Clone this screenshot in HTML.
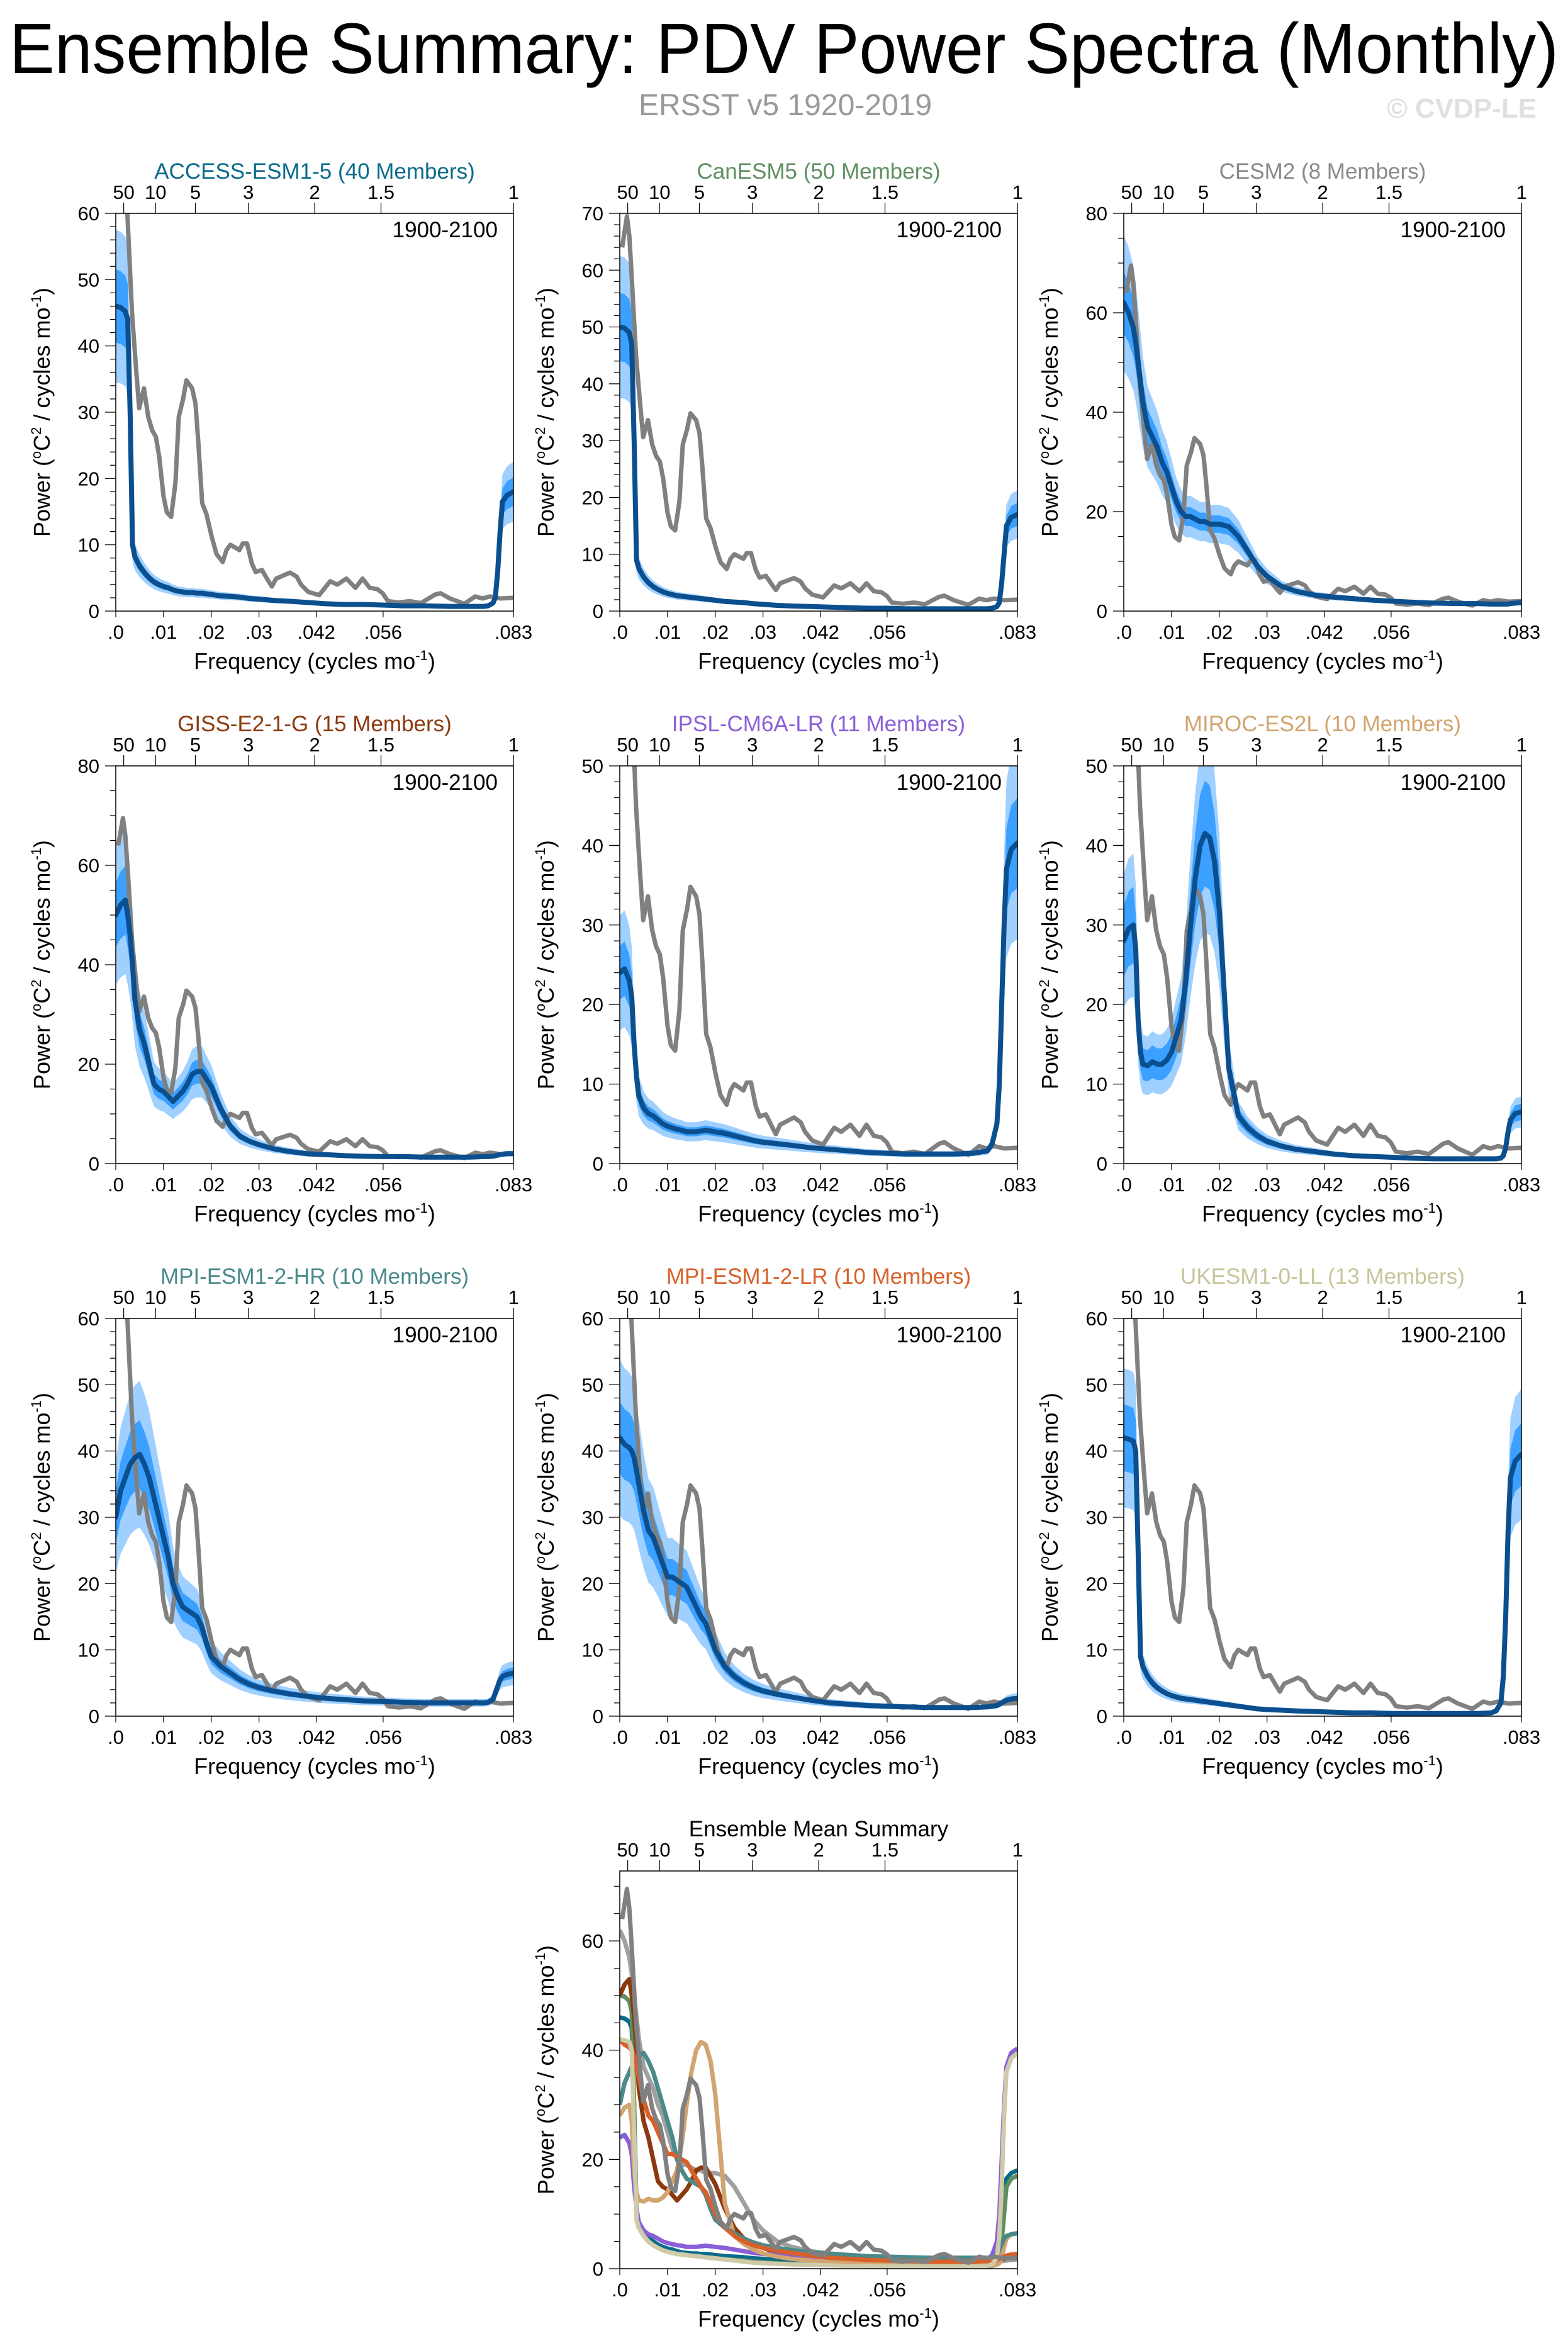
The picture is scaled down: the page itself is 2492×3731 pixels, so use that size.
<!DOCTYPE html>
<html><head><meta charset="utf-8"><style>
html,body{margin:0;padding:0;background:#fff}
svg{display:block;font-family:"Liberation Sans",sans-serif}
</style></head><body>
<svg id="chart" width="2492" height="3731" viewBox="0 0 2492 3731">
<text x="1246" y="116" font-size="113" text-anchor="middle" textLength="2462" lengthAdjust="spacingAndGlyphs">Ensemble Summary: PDV Power Spectra (Monthly)</text>
<text x="1248" y="183" font-size="48" fill="#999" text-anchor="middle">ERSST v5 1920-2019</text>
<text x="2442" y="187" font-size="44" font-weight="bold" fill="#e0e0e0" text-anchor="end">© CVDP-LE</text>
<g id="panels"></g>
</svg>
<script>
const G = [0,.001,.002,.0025,.003,.0035,.004,.005,.006,.007,.008,.009,.010,.011,.012,.013,.014,.015,.016,.017,.018,.019,.020,.022,.024,.026,.028,.030,.033,.036,.040,.044,.048,.052,.056,.060,.065,.070,.074,.077,.078,.079,.0795,.080,.0805,.081,.082,.0833];
const obsFreq = [.0005,.0015,.002,.00243,.0034,.0042,.0049,.0059,.0068,.0076,.0084,.0091,.0100,.0107,.0116,.0125,.0132,.0141,.0148,.0160,.0167,.0173,.0181,.0190,.0201,.0211,.0224,.0232,.0240,.0259,.0266,.0275,.0285,.0293,.0306,.0320,.0327,.0336,.0365,.0379,.0388,.0403,.0426,.0449,.0464,.0483,.0502,.0517,.0532,.0548,.0559,.0570,.0593,.0616,.0639,.0669,.0680,.0700,.0730,.0753,.0768,.0784,.0806,.0833];
const obsPower = [64,69.5,66,60,45,37,30.6,33.6,29.3,27.3,26.3,23.3,17.3,14.9,14.2,19.3,29.3,32,34.8,33.6,31.3,25.3,16.3,14.6,11.2,8.6,7.4,9.2,10,9.2,10.2,10.2,7.2,5.9,6.2,4.5,3.7,4.9,5.8,5.2,4,2.9,2.4,4.5,4,4.9,3.5,4.9,3.5,3.3,2.7,1.5,1.3,1.5,1.2,2.5,2.7,1.9,1.1,2.2,1.9,2.2,1.9,2];
const modelNames = ["ACCESS-ESM1-5 (40 Members)","CanESM5 (50 Members)","CESM2 (8 Members)","GISS-E2-1-G (15 Members)","IPSL-CM6A-LR (11 Members)","MIROC-ES2L (10 Members)","MPI-ESM1-2-HR (10 Members)","MPI-ESM1-2-LR (10 Members)","UKESM1-0-LL (13 Members)"];
const accessMean = [46,45.8,45.2,44,30,10,8.2,6.8,5.8,5,4.4,4,3.7,3.5,3.2,3,2.9,2.8,2.8,2.7,2.7,2.6,2.5,2.3,2.2,2.1,1.9,1.8,1.6,1.5,1.3,1.1,1.0,1.0,0.9,0.8,0.8,0.7,0.7,0.7,0.8,1.2,2,6,12,16.5,17.5,18];
const canesmMean = [50,49.8,49,47,30,9,7.5,6,5,4.3,3.8,3.4,3.1,2.9,2.7,2.6,2.5,2.4,2.3,2.2,2.1,2.0,1.9,1.7,1.6,1.5,1.3,1.2,1.0,.9,.8,.7,.6,.5,.5,.4,.4,.4,.4,.4,.5,.8,1.5,5,10,15,16.5,17];
const cesmMean = [62,60,57,54,50,46,42,37,35,33,30,28,25,22,20,19,19,18.5,18,18,17.5,17.5,17.5,17,15,12,9,7,5,4,3.2,2.8,2.5,2.2,2,1.8,1.6,1.5,1.5,1.4,1.4,1.4,1.4,1.4,1.4,1.5,1.6,1.7];
const gissMean = [50,52,53,50,46,40,33,27,24,20,16,15,14.5,13.5,12.5,13.5,14.5,16,18,18.5,18.5,17,15.5,11,7.5,5.5,4.5,3.8,3,2.5,2,1.8,1.6,1.5,1.4,1.4,1.3,1.3,1.3,1.4,1.4,1.5,1.6,1.7,1.8,1.9,2,2];
const ipslMean = [24,24.5,23,21,15,11,8.5,7,6.3,6,5.5,5,4.7,4.5,4.3,4.2,4,4,4,4.1,4.2,4.1,4,3.8,3.5,3.2,2.9,2.7,2.5,2.3,2,1.8,1.6,1.4,1.3,1.2,1.2,1.2,1.3,1.6,2.5,5,10,20,30,37,39.5,40.3];
const mirocMean = [28,29.5,30,27,18,14,12.5,12.3,12.8,12.5,12.5,13,14,16,18,23,30,36,40,41.5,41,38,32,12,6,4.5,3.5,2.8,2.2,1.8,1.5,1.2,1,.9,.8,.7,.6,.6,.6,.6,.6,.7,1,2,4,5.5,6.3,6.5];
const mpihrMean = [30,34,36,37,38,38.5,39,39.5,38,36,33,30,27,24,20,18,16.5,16,15.5,15,13.5,11,9,7.5,6.5,5.5,4.8,4.3,3.8,3.4,3,2.7,2.5,2.3,2.2,2.1,2,2,2,2,2.1,2.5,3.5,4.5,5.5,6,6.3,6.5];
const mpilrMean = [42,41,40.5,40,39,37,35,31,28,27,25,23,21,21,20.5,20,19.5,18,16.5,15,14,12,10,7.5,6,5,4.3,3.8,3.3,2.9,2.4,2,1.8,1.6,1.5,1.4,1.3,1.3,1.3,1.4,1.5,1.6,1.8,2,2.2,2.4,2.6,2.7];
const ukesmMean = [42,41.8,41.5,40,25,9,7.5,6,5,4.3,3.8,3.4,3.1,2.9,2.7,2.6,2.5,2.4,2.3,2.2,2.1,2.0,1.9,1.7,1.5,1.3,1.1,1,.9,.8,.7,.6,.5,.5,.4,.4,.4,.4,.4,.5,.8,2,6,15,28,36,38.5,39.5];
const outerSpread = [0.25,0.25,0.22,0.28,0.3,0.3,0.28,0.28,0.25];
const innerSpread = [0.12,0.12,0.1,0.13,0.14,0.16,0.13,0.13,0.12];
const yMaxes = [60,70,80,80,50,50,60,60,60];
const yMajors = [10,10,20,20,10,10,10,10,10];
const yMinors = [2,2,5,5,2,2,2,2,2];
const meanYMax = 72.8;
const xTickVals = [0,.01,.02,.03,.042,.056,.0833];
const xTickLabels = [".0",".01",".02",".03",".042",".056",".083"];
const periodVals = [50,10,5,3,2,1.5,1];
const periodLabels = ["50","10","5","3","2","1.5","1"];

const allMeans=[accessMean,canesmMean,cesmMean,gissMean,ipslMean,mirocMean,mpihrMean,mpilrMean,ukesmMean];
const titleColors=["#0b6b8c","#5f8f60","#8a8a8a","#8b3a0f","#8a5fd8","#d2a46f","#4a8a8a","#d8602a","#c8c49a"];
const lineColors=["#0b6b8c","#5f8f60","#a0a0a0","#8b3a0f","#8a5fd8","#d2a46f","#4a8a8a","#d8602a","#cfcba8"];
const NS="http://www.w3.org/2000/svg";
const root=document.getElementById('panels');
function el(tag,attrs,parent){const e=document.createElementNS(NS,tag);for(const k in attrs)e.setAttribute(k,attrs[k]);(parent||root).appendChild(e);return e;}
const PW=632,PH=632,XMAX=0.0833;
let clipId=0;
function drawPanel(x0,y0,ymax,major,minor,title,tcolor,drawFn,showPeriod){
  const g=el('g',{});
  
  
  const xs=f=>x0+f/XMAX*PW, ys=v=>y0+PH-v/ymax*PH;
  const t=el('text',{x:x0+PW/2,y:y0-55,'font-size':35,'text-anchor':'middle',fill:tcolor},g);t.textContent=title;
  
  
  const id='c'+(clipId++);
  const cp=el('clipPath',{id:id},g);el('rect',{x:x0,y:y0,width:PW,height:PH},cp);
  const data=el('g',{'clip-path':'url(#'+id+')'},g);
  drawFn(data,xs,ys);
  el('rect',{x:x0,y:y0,width:PW,height:PH,fill:'none',stroke:'#000','stroke-width':1.5},g);
  for(let v=0;v<=ymax+1e-6;v+=minor){
    const isMaj=Math.abs(v/major-Math.round(v/major))<1e-6;
    el('line',{x1:x0-(isMaj?17:9),x2:x0,y1:ys(v),y2:ys(v),stroke:'#000','stroke-width':1.2},g);
    if(isMaj){const l=el('text',{x:x0-26,y:ys(v)+11,'font-size':31,'text-anchor':'end'},g);l.textContent=String(Math.round(v));
      
      }
  }
  xTickVals.forEach((f,i)=>{
    el('line',{x1:xs(f),x2:xs(f),y1:y0+PH,y2:y0+PH+10,stroke:'#000','stroke-width':1.2},g);
    const l=el('text',{x:xs(f),y:y0+PH+44,'font-size':31,'text-anchor':'middle'},g);l.textContent=xTickLabels[i];
    
    
  });
  periodVals.forEach((p,i)=>{
    const f=1/(12*p);
    el('line',{x1:xs(f),x2:xs(f),y1:y0-17,y2:y0,stroke:'#000','stroke-width':1.2},g);
    const l=el('text',{x:xs(f),y:y0-23,'font-size':31,'text-anchor':'middle'},g);l.textContent=periodLabels[i];
    
    
  });
  if(showPeriod){const l=el('text',{x:x0+PW-25,y:y0+38,'font-size':35,'text-anchor':'end'},g);l.textContent='1900-2100';
    
    }
  const xt=el('text',{x:x0+PW/2,y:y0+PH+92,'font-size':36,'text-anchor':'middle'},g);
  xt.innerHTML='Frequency (cycles mo<tspan dy="-14" font-size="22">-1</tspan><tspan dy="14">)</tspan>';
  
  
  const cx=x0-105,cy=y0+PH/2;
  const yt=el('text',{x:cx,y:cy,'font-size':36,'text-anchor':'middle',transform:`rotate(-90 ${cx} ${cy})`},g);
  yt.innerHTML='Power (<tspan dy="-14" font-size="22">o</tspan><tspan dy="14">C</tspan><tspan dy="-14" font-size="22">2</tspan><tspan dy="14"> / cycles mo</tspan><tspan dy="-14" font-size="22">-1</tspan><tspan dy="14">)</tspan>';
  
  
}
function linePath(fr,vals,xs,ys){return fr.map((f,i)=>(i?'L':'M')+xs(f).toFixed(1)+','+ys(vals[i]).toFixed(1)).join(' ');}
function bandPath(fr,vals,s,xs,ys){
  const up=fr.map((f,i)=>(i?'L':'M')+xs(f).toFixed(1)+','+ys(vals[i]*(1+s)).toFixed(1)).join(' ');
  let dn='';for(let i=fr.length-1;i>=0;i--)dn+=' L'+xs(fr[i]).toFixed(1)+','+ys(vals[i]*(1-s)).toFixed(1);
  return up+dn+' Z';
}
const colX=[184,985,1786],rowY=[339,1217,2095];
allMeans.forEach((m,k)=>{
  const x0=colX[k%3],y0=rowY[Math.floor(k/3)];
  drawPanel(x0,y0,yMaxes[k],yMajors[k],yMinors[k],modelNames[k],titleColors[k],(g,xs,ys)=>{
    const b1=el('path',{d:bandPath(G,m,outerSpread[k],xs,ys),fill:'#9fd0ff'},g);
    
    
    const b2=el('path',{d:bandPath(G,m,innerSpread[k],xs,ys),fill:'#3ba0ff'},g);
    
    
    const o=el('path',{d:linePath(obsFreq,obsPower,xs,ys),fill:'none',stroke:'#808080','stroke-width':7,'stroke-linejoin':'round'},g);
    
    
    const ml=el('path',{d:linePath(G,m,xs,ys),fill:'none',stroke:'#0b4f8f','stroke-width':8,'stroke-linejoin':'round','stroke-linecap':'round'},g);
    
    
  },true);
});
drawPanel(985,2973,meanYMax,20,5,'Ensemble Mean Summary','#000',(g,xs,ys)=>{
  allMeans.forEach((m,k)=>{
    const p=el('path',{d:linePath(G,m,xs,ys),fill:'none',stroke:lineColors[k],'stroke-width':7,'stroke-linejoin':'round'},g);
    
    
  });
  const o=el('path',{d:linePath(obsFreq,obsPower,xs,ys),fill:'none',stroke:'#808080','stroke-width':7,'stroke-linejoin':'round'},g);
  
  
},false);
</script>
</body></html>
